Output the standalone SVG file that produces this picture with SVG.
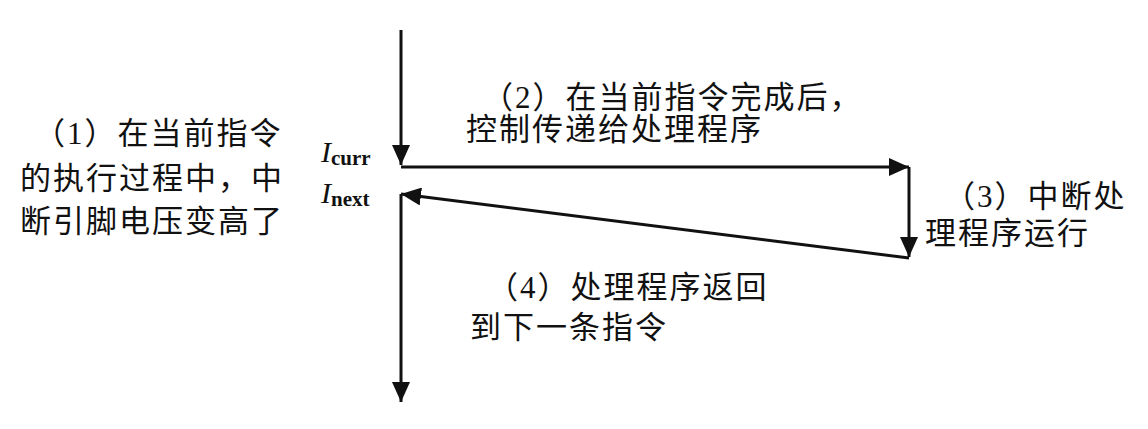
<svg xmlns="http://www.w3.org/2000/svg" width="1148" height="429" viewBox="0 0 1148 429">
<style>
.t{font-family:"Liberation Serif","Noto Sans CJK SC",serif;font-size:31px;letter-spacing:2px;fill:#111}
.c{stroke:#111;stroke-width:3;fill:none}
.I{font-family:"Liberation Serif",serif;font-style:italic;font-size:30px;fill:#111}
.s{font-family:"Liberation Serif",serif;font-weight:bold;font-size:21px;fill:#111}
</style>
<defs>
<marker id="ah" markerUnits="userSpaceOnUse" markerWidth="22" markerHeight="18" refX="20" refY="9" orient="auto">
<path d="M0,0 L20,9 L0,18 Z" fill="#111"/>
</marker>
</defs>
<g id="connectors">
<path class="c" d="M401,30 L401,165" marker-end="url(#ah)"/>
<path class="c" d="M401,167 L909,167" marker-end="url(#ah)"/>
<path class="c" d="M909,167 L909,257" marker-end="url(#ah)"/>
<path class="c" d="M909,258 L401,194" marker-end="url(#ah)"/>
<path class="c" d="M401,194 L401,402" marker-end="url(#ah)"/>
</g>
<g id="label-curr">
<text x="321" y="162"><tspan class="I">I</tspan><tspan class="s" dy="3">curr</tspan></text>
</g>
<g id="label-next">
<text x="321" y="203"><tspan class="I">I</tspan><tspan class="s" dy="3">next</tspan></text>
</g>
<g id="step1">
<text class="t" x="34" y="144">（1）在当前指令</text>
<text class="t" x="20" y="189">的执行过程中，中</text>
<text class="t" x="20" y="232">断引脚电压变高了</text>
</g>
<g id="step2">
<text class="t" x="482" y="108">（2）在当前指令完成后，</text>
<text class="t" x="466" y="140">控制传递给处理程序</text>
</g>
<g id="step3">
<text class="t" x="944" y="207">（3）中断处</text>
<text class="t" x="925" y="244">理程序运行</text>
</g>
<g id="step4">
<text class="t" x="487" y="298">（4）处理程序返回</text>
<text class="t" x="470" y="338">到下一条指令</text>
</g>
</svg>
